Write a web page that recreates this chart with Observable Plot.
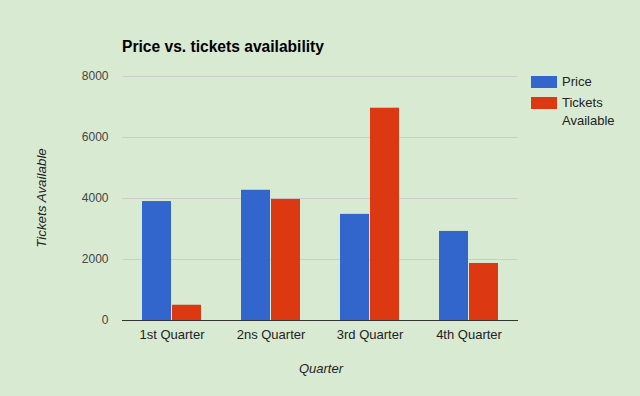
<!DOCTYPE html>
<html>
<head>
<meta charset="utf-8">
<script src="https://cdn.jsdelivr.net/npm/d3@7"></script>
<script src="https://cdn.jsdelivr.net/npm/@observablehq/plot@0.6"></script>
<style>
  html, body { margin: 0; padding: 0; background: #d9ead3; }
  #wrap { position: relative; width: 640px; height: 396px; font-family: Arial, "Liberation Sans", sans-serif; }
  #wrap svg { position: absolute; left: 0; top: 0; }
  .t { position: absolute; white-space: nowrap; }
  #title { left: 122px; top: 38px; font-size: 15.6px; font-weight: bold; color: #000; }
  #xlab { left: 0; width: 640px; text-align: center; top: 361px; font-size: 13px; font-style: italic; color: #222; padding-left: 2px; box-sizing: border-box; }
  #ylab { left: 41px; top: 198px; font-size: 13.4px; font-style: italic; color: #222; transform: translate(-50%, -50%) rotate(-90deg); }
  .sw { position: absolute; width: 26px; height: 12px; left: 531px; }
  .lt { position: absolute; left: 562px; font-size: 13px; color: #222; line-height: 18px; }
</style>
</head>
<body>
<div id="wrap"></div>
<script>
const quarters = ["1st Quarter", "2ns Quarter", "3rd Quarter", "4th Quarter"];
const seriesNames = ["Price", "Tickets Available"];
const price = [3900, 4270, 3480, 2920];
const tickets = [500, 3970, 6960, 1870];
const colors = ["#3366cc", "#dc3912"];
const yTicks = [0, 2000, 4000, 6000, 8000];

const rows = [];
quarters.forEach((q, i) => {
  rows.push({quarter: q, series: seriesNames[0], value: price[i]});
  rows.push({quarter: q, series: seriesNames[1], value: tickets[i]});
});

const chart = Plot.plot({
  width: 640,
  height: 396,
  marginTop: 76,
  marginBottom: 76,
  marginLeft: 122,
  marginRight: 122,
  style: {background: "transparent", fontFamily: "Arial, 'Liberation Sans', sans-serif"},
  facet: {data: rows, x: "quarter"},
  fx: {domain: quarters, padding: 0, label: null, tickSize: 0, tickPadding: 9, fontSize: 13},
  x: {domain: seriesNames, paddingInner: 0.032, paddingOuter: 0.613, axis: null},
  y: {domain: [0, 8000], ticks: yTicks, tickFormat: d3.format("d"), tickSize: 0, tickPadding: 14, label: null},
  color: {domain: seriesNames, range: colors},
  marks: [
    Plot.gridY(yTicks, {stroke: "#cccccc", strokeOpacity: 1, strokeWidth: 1}),
    Plot.barY(rows, {x: "series", y: "value", fill: "series"}),
    Plot.ruleY([0], {stroke: "#333333", strokeWidth: 1})
  ]
});

const wrap = document.getElementById("wrap");
wrap.appendChild(chart);

chart.querySelectorAll("[aria-label='y-axis tick label']").forEach(el => {
  el.setAttribute("fill", "#444");
  el.setAttribute("font-size", "12");
});
chart.querySelectorAll("[aria-label='fx-axis tick label']").forEach(el => {
  el.setAttribute("fill", "#222");
  el.setAttribute("font-size", "13");
});

function addText(id, cls, txt) {
  const d = document.createElement("div");
  if (id) d.id = id;
  d.className = cls;
  d.textContent = txt;
  wrap.appendChild(d);
  return d;
}
addText("title", "t", "Price vs. tickets availability");
addText("xlab", "t", "Quarter");
addText("ylab", "t", "Tickets Available");

const legTops = [76, 97];
seriesNames.forEach((s, i) => {
  const sw = document.createElement("div");
  sw.className = "sw";
  sw.style.top = legTops[i] + "px";
  sw.style.background = colors[i];
  wrap.appendChild(sw);
});
const l1 = addText(null, "lt", "Price");
l1.style.top = "73px";
const l2 = document.createElement("div");
l2.className = "lt";
l2.style.top = "94px";
l2.innerHTML = "Tickets<br>Available";
wrap.appendChild(l2);
</script>
</body>
</html>
